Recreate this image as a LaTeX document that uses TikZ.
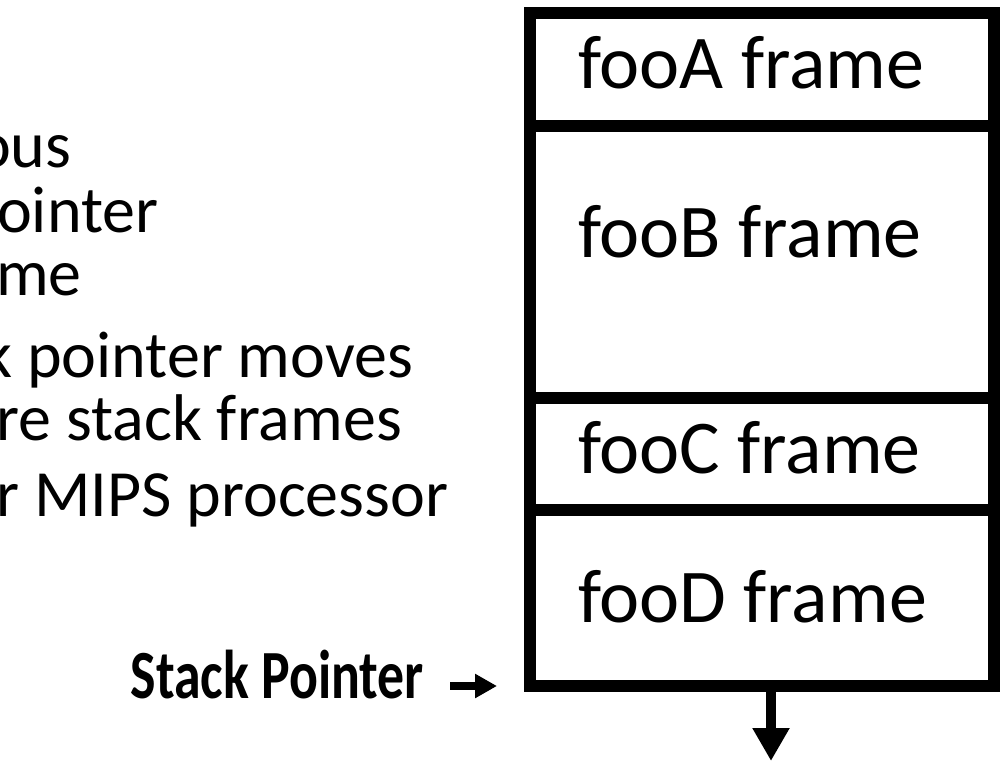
\documentclass[tikz,border=0pt]{standalone}
\usepackage{fontspec}
\setmainfont{Carlito}
\usetikzlibrary{arrows.meta}
\tikzset{
  frame/.style={draw=black, line width=12bp, inner sep=0pt, outer sep=0pt,
                minimum width=464bp, anchor=north west},
  framelabel/.style={anchor=base west, inner sep=0pt, font=\fontsize{76bp}{90bp}\selectfont},
  bodytext/.style={anchor=base west, inner sep=0pt, font=\fontsize{66bp}{78bp}\selectfont},
  pointerlabel/.style={anchor=base east, inner sep=0pt, font=\fontsize{69bp}{82bp}\selectfont\bfseries},
  bigarrow/.style={line width=10bp, -{Triangle[length=33bp,width=35bp]}},
  smallarrow/.style={line width=8bp, -{Triangle[length=22bp,width=23bp]}}
}
\begin{document}
\begin{tikzpicture}[x=1bp,y=-1bp]
  \useasboundingbox (0,0) rectangle (1001,761);

  % explanatory text, running off the left edge
  \begin{scope}
    \clip (0,0) rectangle (1001,761);
    \node[bodytext] (t1) at (-24,167) {ous};
    \node[bodytext] (t2) at (-3,232) {ointer};
    \node[bodytext] (t3) at (-4,295) {me};
    \node[bodytext] (t4) at (-18,377) {k pointer moves};
    \node[bodytext] (t5) at (-4,440) {re stack frames};
    \node[bodytext] (t6) at (-4,516) {r MIPS processor};
  \end{scope}

  % the stack of frames
  \node[frame, minimum height=113bp] (fA) at (530,13) {};
  \node[frame, minimum height=272bp] (fB) at (530,126) {};
  \node[frame, minimum height=112bp] (fC) at (530,398) {};
  \node[frame, minimum height=176bp] (fD) at (530,510) {};

  \node[framelabel] (lA) at (578,89) {fooA frame};
  \node[framelabel] (lB) at (578,257) {fooB frame};
  \node[framelabel] (lC) at (578,473) {fooC frame};
  \node[framelabel] (lD) at (578,622) {fooD frame};

  % stack pointer marker
  \node[pointerlabel] (sp) at (424,698) {\scalebox{0.78}[1]{Stack Pointer}};
  \coordinate (spfrom) at (450,686);
  \coordinate (spto) at (497,686);
  \draw[smallarrow] (spfrom) -- (spto);

  % growth direction
  \coordinate (growfrom) at (771,686);
  \coordinate (growto) at (771,761);
  \draw[bigarrow] (growfrom) -- (growto);
\end{tikzpicture}
\end{document}
